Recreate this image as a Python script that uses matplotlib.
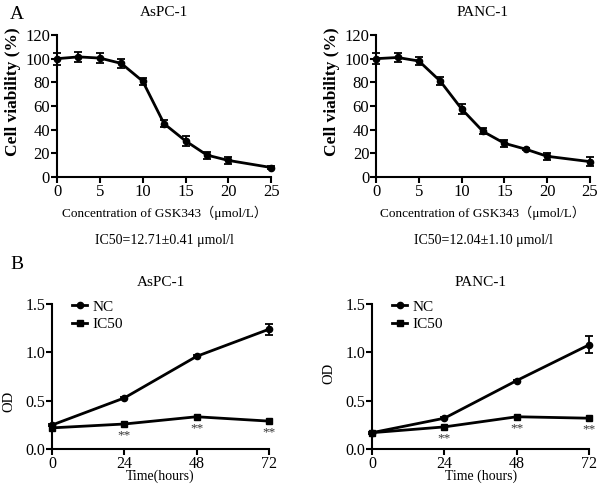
import matplotlib.pyplot as plt

plt.rcParams['font.family'] = ['Liberation Serif', 'Noto Sans CJK SC', 'DejaVu Sans']
plt.rcParams['font.size'] = 11

# dose response (panel A)
conc = [0, 2.5, 5, 7.5, 10, 12.5, 15, 17.5, 20, 25]
aspc_via = [100, 101.5, 100.5, 96, 81, 45, 30.5, 18.5, 14, 8]
aspc_err = [5, 4.5, 4, 3.5, 3, 3, 4, 3, 3, 1]
panc_via = [100, 101, 98, 81, 57.5, 38.5, 28.5, 23.5, 17.5, 13]
panc_err = [4.5, 4, 3, 3.5, 4.5, 2.5, 3, 1, 3, 4]
ic50_txt = ["IC50=12.71±0.41 μmol/l", "IC50=12.04±1.10 μmol/l"]

# growth curves (panel B)
hours = [0, 24, 48, 72]
aspc_nc = [0.25, 0.53, 0.96, 1.24]
aspc_nc_err = [0.01, 0.01, 0.01, 0.06]
aspc_ic = [0.22, 0.26, 0.335, 0.29]
panc_nc = [0.17, 0.32, 0.71, 1.08]
panc_nc_err = [0.01, 0.01, 0.01, 0.09]
panc_ic = [0.17, 0.23, 0.335, 0.32]
xlabels_b = ["Time(hours)", "Time (hours)"]

fig = plt.figure(figsize=(6, 4.93), dpi=100)


def style(ax, tsize):
    for s in ['top', 'right']:
        ax.spines[s].set_visible(False)
    for s in ['left', 'bottom']:
        ax.spines[s].set_linewidth(1.5)
    ax.tick_params(width=1.5, length=4, direction='out', pad=1, labelsize=tsize)


top_pos = [[0.095, 0.641, 0.357, 0.288], [0.627, 0.641, 0.356, 0.288]]
for pos, name, via, err, ic in zip(top_pos, ["AsPC-1", "PANC-1"],
                                   [aspc_via, panc_via], [aspc_err, panc_err], ic50_txt):
    ax = fig.add_axes(pos)
    ax.errorbar(conc, via, yerr=err, color='black', lw=2, marker='o', ms=4.5,
                capsize=3, elinewidth=1.3, capthick=1.3, clip_on=False, zorder=3)
    ax.set_xlim(0, 25)
    ax.set_ylim(0, 120)
    ax.set_xticks([0, 5, 10, 15, 20, 25])
    ax.set_yticks([0, 20, 40, 60, 80, 100, 120])
    ax.set_ylabel("Cell viability (%)", fontweight='bold', fontsize=12.5)
    ax.yaxis.set_label_coords(-0.206, 0.6)
    ax.yaxis.label.set_va('center')
    ax.set_xlabel("Concentration of GSK343（μmol/L）", fontsize=9.5)
    ax.xaxis.set_label_coords(0.5, -0.254)
    ax.xaxis.label.set_va('center')
    ax.text(0.5, 1.155, name, transform=ax.transAxes, ha='center', va='center')
    style(ax, 12)
    ax.text(0.5, -0.444, ic, transform=ax.transAxes, ha='center', va='center', fontsize=10)

bot_pos = [[0.087, 0.089, 0.361, 0.294], [0.62, 0.089, 0.362, 0.294]]
od_y = [0.33, 0.52]
for pos, name, nc, nce, ic, xl, oy in zip(bot_pos, ["AsPC-1", "PANC-1"],
                                          [aspc_nc, panc_nc], [aspc_nc_err, panc_nc_err],
                                          [aspc_ic, panc_ic], xlabels_b, od_y):
    ax = fig.add_axes(pos)
    ax.errorbar(hours, nc, yerr=nce, fmt='none', ecolor='black', capsize=3,
                elinewidth=1.3, capthick=1.3, clip_on=False, zorder=3)
    ax.plot(hours, nc, color='black', lw=2, marker='o', ms=4.5, clip_on=False,
            zorder=3, label="NC")
    ax.plot(hours, ic, color='black', lw=2, marker='s', ms=5, clip_on=False,
            zorder=3, label="IC50")
    for h, v in zip(hours[1:], ic[1:]):
        ax.text(h, v - 0.12, "**", ha='center', va='center', fontsize=9.5, color='#333333')
    ax.set_xlim(0, 72)
    ax.set_ylim(0, 1.5)
    ax.set_xticks(hours)
    ax.set_yticks([0.0, 0.5, 1.0, 1.5])
    ax.set_ylabel("OD", fontsize=10.5)
    ax.yaxis.set_label_coords(-0.2, oy)
    ax.yaxis.label.set_va('center')
    ax.set_xlabel(xl, fontsize=10)
    ax.xaxis.set_label_coords(0.5, -0.19)
    ax.xaxis.label.set_va('center')
    ax.text(0.5, 1.152, name, transform=ax.transAxes, ha='center', va='center')
    style(ax, 11.5)
    ax.legend(loc='upper left', bbox_to_anchor=(0.092, 1.03), frameon=False,
              handlelength=1.0, borderaxespad=0, borderpad=0, labelspacing=0.25,
              handletextpad=0.35, fontsize=11)

fig.text(0.017, 0.97, "A", fontsize=14, va='center', ha='left')
fig.text(0.017, 0.463, "B", fontsize=14, va='center', ha='left')

fig.savefig("out.png", dpi=100)
